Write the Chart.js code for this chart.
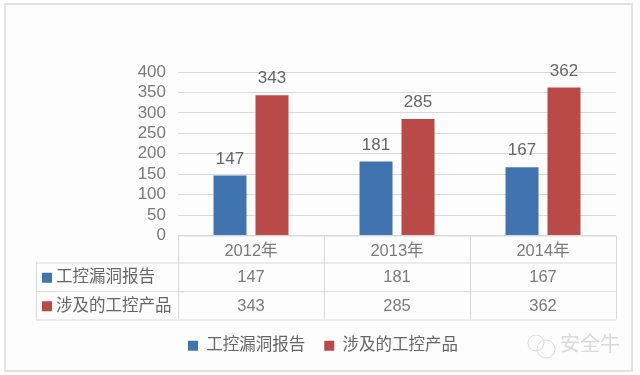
<!DOCTYPE html>
<html lang="zh">
<head>
    <meta charset="UTF-8">
    <title>工控漏洞报告</title>
    <script src="https://cdn.jsdelivr.net/npm/chart.js"></script>
    <style>
        html, body { margin: 0; padding: 0; background: #fff; }
        canvas { display: block; }
    </style>
</head>
<body>
    <canvas id="grafico" width="640" height="375"></canvas>

    <script>
        const categories = ["2012年", "2013年", "2014年"];
        const seriesNames = ["工控漏洞报告", "涉及的工控产品"];
        const reports = [147, 181, 167];
        const products = [343, 285, 362];
        const watermark = "安全牛";

        const FONT = '"Liberation Sans", "Noto Sans CJK SC", sans-serif';
        const GREY = '#7a7a7a';
        const LINE = '#d9d9d9';
        const BLUE = '#3f74b1';
        const RED = '#b94a48';

        // outer frame + watermark
        const framePlugin = {
            id: 'frame',
            beforeDraw(chart) {
                const c = chart.ctx;
                c.save();
                c.fillStyle = '#fdfdfd';
                c.strokeStyle = '#e2e2e2';
                c.lineWidth = 2;
                c.fillRect(5, 4, 627, 367);
                c.strokeRect(5, 4, 627, 367);
                c.strokeStyle = '#dcdcdc';
                c.lineWidth = 1;
                c.beginPath();
                c.arc(536, 343, 8, 0, Math.PI * 2);
                c.stroke();
                c.beginPath();
                c.arc(546, 349, 9, 0, Math.PI * 2);
                c.stroke();
                c.fillStyle = '#dadada';
                c.font = '20px ' + FONT;
                c.textAlign = 'left';
                c.textBaseline = 'middle';
                c.fillText(watermark, 560, 345);
                c.restore();
            }
        };

        // numbers above the bars
        const valuesPlugin = {
            id: 'values',
            afterDatasetsDraw(chart) {
                const c = chart.ctx;
                c.save();
                c.fillStyle = '#666';
                c.font = '17px ' + FONT;
                c.textAlign = 'center';
                c.textBaseline = 'bottom';
                chart.data.datasets.forEach((ds, i) => {
                    chart.getDatasetMeta(i).data.forEach((bar, j) => {
                        c.fillText(ds.data[j], bar.x, bar.y - 8);
                    });
                });
                c.restore();
            }
        };

        // data table under the x axis
        const tablePlugin = {
            id: 'dataTable',
            afterDraw(chart) {
                const c = chart.ctx;
                const x = chart.scales.x;
                const y0 = x.top;
                const rows = [y0 + 27, y0 + 55.5, y0 + 84];
                const tableLeft = 36;
                const colW = x.width / categories.length;

                c.save();
                c.strokeStyle = LINE;
                c.lineWidth = 1;
                c.beginPath();
                c.moveTo(x.left, y0 + 0.5);
                c.lineTo(x.right, y0 + 0.5);
                rows.forEach(r => {
                    c.moveTo(tableLeft, r + 0.5);
                    c.lineTo(x.right, r + 0.5);
                });
                c.moveTo(tableLeft + 0.5, rows[0]);
                c.lineTo(tableLeft + 0.5, rows[2]);
                for (let i = 0; i <= categories.length; i++) {
                    const px = Math.round(x.left + colW * i) + 0.5;
                    c.moveTo(px, y0);
                    c.lineTo(px, rows[2]);
                }
                c.stroke();

                c.textBaseline = 'middle';
                chart.data.datasets.forEach((ds, i) => {
                    const mid = (rows[i] + rows[i + 1]) / 2 + 1;
                    c.fillStyle = ds.backgroundColor;
                    c.fillRect(42, mid - 5, 10, 10);
                    c.fillStyle = '#666';
                    c.textAlign = 'left';
                    c.font = '16.5px ' + FONT;
                    c.fillText(ds.label, 56, mid);
                    c.textAlign = 'center';
                    c.fillStyle = GREY;
                    ds.data.forEach((v, j) => {
                        c.fillText(v, x.getPixelForTick(j), mid);
                    });
                });
                c.restore();
            }
        };

        const chart = new Chart(document.getElementById('grafico').getContext('2d'), {
            type: 'bar',
            data: {
                labels: categories,
                datasets: [
                    { label: seriesNames[0], data: reports, backgroundColor: BLUE },
                    { label: seriesNames[1], data: products, backgroundColor: RED }
                ]
            },
            plugins: [framePlugin, valuesPlugin, tablePlugin],
            options: {
                responsive: false,
                animation: false,
                layout: { padding: { left: 30, right: 24, top: 72, bottom: 11 } },
                datasets: { bar: { categoryPercentage: 0.575, barPercentage: 0.786 } },
                scales: {
                    x: {
                        afterFit(scale) { scale.height = 83; },
                        grid: { display: false, drawTicks: false },
                        border: { display: false },
                        ticks: { color: GREY, font: { family: FONT, size: 16.5 }, padding: 6, maxRotation: 0 }
                    },
                    y: {
                        min: 0,
                        max: 400,
                        afterFit(scale) { scale.width = 148; },
                        grid: { color: LINE, drawTicks: false },
                        border: { display: false },
                        ticks: { stepSize: 50, autoSkip: false, color: GREY, font: { family: FONT, size: 17 }, padding: 12 }
                    }
                },
                plugins: {
                    tooltip: { enabled: false },
                    legend: {
                        position: 'bottom',
                        labels: {
                            boxWidth: 10,
                            boxHeight: 10,
                            padding: 19,
                            color: '#666',
                            font: { family: FONT, size: 16.5 }
                        }
                    }
                }
            }
        });
    </script>
</body>
</html>
